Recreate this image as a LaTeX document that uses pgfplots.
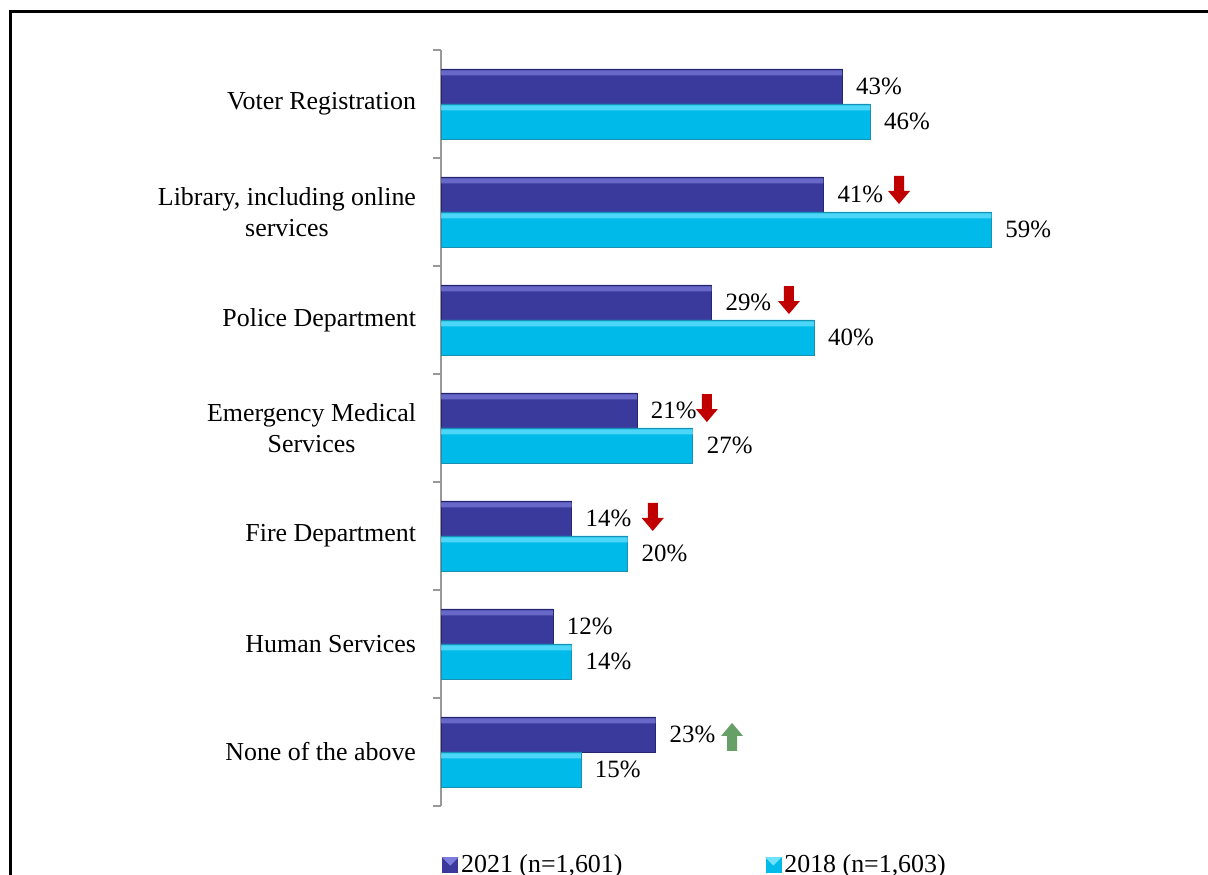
\documentclass[border=0pt]{standalone}
\usepackage{pgfplots}
\pgfplotsset{compat=1.18}
\usepackage{fontspec}
\setmainfont{Liberation Serif}
\definecolor{darkbar}{HTML}{3A3A9C}
\definecolor{darktop}{HTML}{7C7CDC}
\definecolor{darkedge}{HTML}{26266E}
\definecolor{lightbar}{HTML}{00BAEA}
\definecolor{lighttop}{HTML}{6FE2FF}
\definecolor{lightedge}{HTML}{1A8FB0}
\definecolor{arrowred}{HTML}{C00000}
\definecolor{arrowgreen}{HTML}{66A066}
\pgfplotstableread{
y v2021 v2018
0 23 15
1 12 14
2 14 20
3 21 27
4 29 40
5 41 59
6 43 46
}\datatable
\begin{document}
\begin{tikzpicture}
\useasboundingbox (0,0) rectangle (604bp,437.5bp);
\draw[line width=1.5bp] (5bp,-20bp) -- (5bp,431.5bp) -- (640bp,431.5bp);
\begin{axis}[
  at={(220.5bp,34.5bp)}, anchor=south west,
  scale only axis, width=326.5bp, height=378bp,
  xmin=0, xmax=70, ymin=-0.5, ymax=6.5,
  axis x line=none, axis y line*=left,
  axis line style={gray!80, line width=0.8bp},
  ytick={0,...,6},
  yticklabels={None of the above, Human Services, Fire Department, {Emergency Medical\\Services}, Police Department, {Library, including online\\services}, Voter Registration},
  minor ytick={-0.5,0.5,...,6.5},
  major tick length=0pt, minor tick length=4bp, tick align=outside,
  minor tick style={gray!80, line width=0.8bp},
  yticklabel style={align=center, xshift=-9bp, font=\fontsize{13}{15.5}\selectfont},
  xbar, bar width=17.5bp,
  /pgf/number format/assume math mode=true,
  legend columns=2,
  legend style={at={(axis description cs:0.0015,-0.078)}, anchor=west, draw=none, fill=none, inner sep=0pt,
    font=\fontsize{13}{15.5}\selectfont,
    nodes={inner sep=1.5bp},
    /tikz/every even column/.append style={column sep=70bp}},
  lbl/.style={nodes near coords={\pgfmathprintnumber\pgfplotspointmeta\%},
    every node near coord/.append style={anchor=west, xshift=3.5bp, text=black, font=\fontsize{12.5}{15}\selectfont}},
]
\addplot[bar shift=8.75bp, draw=darkedge, line width=0.4bp, fill=darkbar, lbl,
  legend image code/.code={\fill[darkbar] (0bp,-3.75bp) rectangle (7.5bp,3.75bp); \fill[darktop] (0bp,3.75bp) -- (7.5bp,3.75bp) -- (3.75bp,0bp) -- cycle;}]
  table[x=v2021, y=y] {\datatable};
\addlegendentry{2021 (n=1,601)}
\addplot[bar shift=-8.75bp, draw=lightedge, line width=0.4bp, fill=lightbar, lbl,
  legend image code/.code={\fill[lightbar] (0bp,-3.75bp) rectangle (7.5bp,3.75bp); \fill[lighttop] (0bp,3.75bp) -- (7.5bp,3.75bp) -- (3.75bp,0bp) -- cycle;}]
  table[x=v2018, y=y] {\datatable};
\addlegendentry{2018 (n=1,603)}
% bevel highlights along the top of each bar
\addplot[forget plot, bar width=2.5bp, bar shift=15.5bp, draw=none, fill=darktop, opacity=0.7]
  table[x=v2021, y=y] {\datatable};
\addplot[forget plot, bar width=2.5bp, bar shift=-2bp, draw=none, fill=lighttop, opacity=0.7]
  table[x=v2018, y=y] {\datatable};
% significance arrows
\fill[arrowred] (axis cs:49.1,5.204) ++(-2.5bp,7bp) -- ++(5bp,0bp) -- ++(0bp,-7.5bp) -- ++(3bp,0bp) -- ++(-5.5bp,-6.5bp) -- ++(-5.5bp,6.5bp) -- ++(3bp,0bp) -- cycle;
\fill[arrowred] (axis cs:37.3,4.185) ++(-2.5bp,7bp) -- ++(5bp,0bp) -- ++(0bp,-7.5bp) -- ++(3bp,0bp) -- ++(-5.5bp,-6.5bp) -- ++(-5.5bp,6.5bp) -- ++(3bp,0bp) -- cycle;
\fill[arrowred] (axis cs:28.5,3.185) ++(-2.5bp,7bp) -- ++(5bp,0bp) -- ++(0bp,-7.5bp) -- ++(3bp,0bp) -- ++(-5.5bp,-6.5bp) -- ++(-5.5bp,6.5bp) -- ++(3bp,0bp) -- cycle;
\fill[arrowred] (axis cs:22.7,2.176) ++(-2.5bp,7bp) -- ++(5bp,0bp) -- ++(0bp,-7.5bp) -- ++(3bp,0bp) -- ++(-5.5bp,-6.5bp) -- ++(-5.5bp,6.5bp) -- ++(3bp,0bp) -- cycle;
\fill[arrowgreen] (axis cs:31.2,0.139) ++(-2.5bp,-7bp) -- ++(5bp,0bp) -- ++(0bp,7.5bp) -- ++(3bp,0bp) -- ++(-5.5bp,6.5bp) -- ++(-5.5bp,-6.5bp) -- ++(3bp,0bp) -- cycle;
\end{axis}
\end{tikzpicture}
\end{document}
